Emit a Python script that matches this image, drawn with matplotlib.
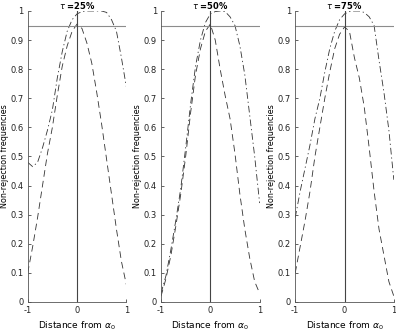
#!/usr/bin/env python3
# Non-rejection frequencies against distance from alpha_0, three quantiles
import matplotlib
matplotlib.use("Agg")
import matplotlib.pyplot as plt

# Data
dist = [-1.0, -0.9, -0.8, -0.7, -0.6, -0.5, -0.4, -0.3, -0.2, -0.1, 0.0,
        0.1, 0.2, 0.3, 0.4, 0.5, 0.6, 0.7, 0.8, 0.9, 1.0]
titles = ["25%", "50%", "75%"]

dashed_25 = [0.10, 0.19, 0.29, 0.40, 0.51, 0.60, 0.71, 0.81, 0.88, 0.93, 0.955,
             0.94, 0.89, 0.82, 0.72, 0.61, 0.49, 0.37, 0.25, 0.14, 0.06]
dashdot_25 = [0.48, 0.465, 0.48, 0.53, 0.59, 0.66, 0.77, 0.86, 0.93, 0.97, 0.99,
              0.998, 1.0, 1.0, 1.0, 1.0, 0.995, 0.97, 0.93, 0.84, 0.74]

dashed_50 = [0.02, 0.08, 0.16, 0.26, 0.37, 0.50, 0.65, 0.78, 0.87, 0.93, 0.955,
             0.90, 0.80, 0.71, 0.63, 0.51, 0.37, 0.25, 0.15, 0.07, 0.03]
dashdot_50 = [0.03, 0.09, 0.18, 0.28, 0.39, 0.53, 0.68, 0.81, 0.90, 0.96, 0.99,
              0.998, 1.0, 0.998, 0.98, 0.95, 0.88, 0.78, 0.64, 0.50, 0.34]

dashed_75 = [0.10, 0.19, 0.28, 0.38, 0.50, 0.60, 0.70, 0.79, 0.87, 0.92, 0.945,
             0.93, 0.84, 0.77, 0.67, 0.53, 0.38, 0.25, 0.16, 0.07, 0.02]
dashdot_75 = [0.29, 0.38, 0.46, 0.54, 0.63, 0.70, 0.79, 0.87, 0.93, 0.97, 0.99,
              0.998, 1.0, 1.0, 0.995, 0.98, 0.95, 0.83, 0.72, 0.59, 0.42]

dashed_all = [dashed_25, dashed_50, dashed_75]
dashdot_all = [dashdot_25, dashdot_50, dashdot_75]

nominal = 0.95
yticks = [0, 0.1, 0.2, 0.3, 0.4, 0.5, 0.6, 0.7, 0.8, 0.9, 1]
yticklabels = ["0", "0.1", "0.2", "0.3", "0.4", "0.5", "0.6", "0.7", "0.8", "0.9", "1"]
xticks = [-1, 0, 1]
xticklabels = ["-1", "0", "1"]

fig = plt.figure(figsize=(3.96, 3.32), dpi=100)
lefts = [0.070, 0.4066, 0.7455]

for i in range(3):
    ax = fig.add_axes([lefts[i], 0.0904, 0.249, 0.8765])
    ax.plot(dist, dashed_all[i], color="#333333", lw=0.6, dashes=(8, 5))
    ax.plot(dist, dashdot_all[i], color="#333333", lw=0.6, dashes=(8, 3.5, 1.5, 3.5))
    ax.axhline(nominal, color="#8c8c8c", lw=0.8)
    ax.plot([0, 0], [0, 1], color="#444444", lw=0.8)

    ax.set_xlim(-1, 1)
    ax.set_ylim(0, 1)
    ax.set_xticks(xticks)
    ax.set_xticklabels(xticklabels)
    ax.set_yticks(yticks)
    ax.set_yticklabels(yticklabels)
    ax.tick_params(direction="in", length=2.5, width=0.5, labelsize=6,
                   colors="#222222", pad=3)
    for side in ["top", "right"]:
        ax.spines[side].set_visible(False)
    for side in ["left", "bottom"]:
        ax.spines[side].set_linewidth(0.6)
        ax.spines[side].set_color("#555555")

    ax.set_ylabel("Non-rejection frequencies", fontsize=5.8, labelpad=1)
    ax.set_xlabel(r"Distance from $\alpha_0$", fontsize=6.5, labelpad=3)
    ax.set_title(r"$\tau$ =" + titles[i], fontsize=6, fontweight="bold", pad=1.5)

fig.savefig("out.png", dpi=100)
